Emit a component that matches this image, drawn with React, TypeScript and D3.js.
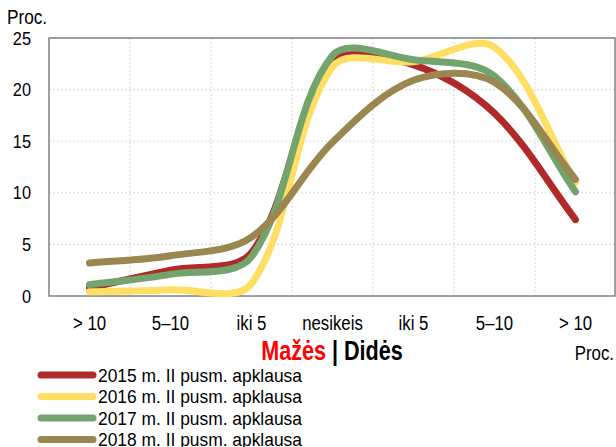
import * as d3 from 'd3';
import { useEffect, useRef } from 'react';

const categories = ['> 10', '5–10', 'iki 5', 'nesikeis', 'iki 5', '5–10', '> 10'];
const seriesNames = [
    '2015 m. II pusm. apklausa',
    '2016 m. II pusm. apklausa',
    '2017 m. II pusm. apklausa',
    '2018 m. II pusm. apklausa',
];
const values2015 = [0.8, 2.5, 4.2, 22.7, 22.4, 17.7, 7.4];
const values2016 = [0.4, 0.6, 1.2, 22.2, 22.7, 24.1, 11.0];
const values2017 = [1.1, 2.1, 3.8, 23.3, 22.9, 21.3, 10.1];
const values2018 = [3.2, 3.9, 5.7, 14.9, 20.9, 20.7, 11.3];
const yTicks = [0, 5, 10, 15, 20, 25];
const colors = ['#B02A29', '#FFDE64', '#73A46E', '#9A8651'];

const FONT = '"Liberation Sans", Arial, sans-serif';

type G = d3.Selection<SVGGElement, unknown, null, undefined>;
type Pt = [number, number];

// narrow-looking text: regular Liberation Sans squeezed horizontally
function label(g: G, x: number, y: number, str: string, size: number, sx: number, anchor = 'start') {
    return g.append('text')
        .attr('transform', `translate(${x},${y}) scale(${sx},1)`)
        .attr('text-anchor', anchor)
        .attr('font-size', size)
        .text(str);
}

// spreadsheet-style smoothed line: bezier segments, tangents weighted by neighbour segment lengths
function smoothPath(pts: Pt[]) {
    const p = d3.path();
    const dist = (a: Pt, b: Pt) => Math.hypot(b[0] - a[0], b[1] - a[1]);
    p.moveTo(pts[0][0], pts[0][1]);
    for (let i = 0; i < pts.length - 1; i++) {
        const p0 = pts[Math.max(0, i - 1)], p1 = pts[i], p2 = pts[i + 1], p3 = pts[Math.min(pts.length - 1, i + 2)];
        const d01 = dist(p0, p1), d12 = dist(p1, p2), d23 = dist(p2, p3);
        const f1 = d12 / (d01 + d12) / 3;
        const f2 = d12 / (d12 + d23) / 3;
        const c1: Pt = [p1[0] + (p2[0] - p0[0]) * f1, p1[1] + (p2[1] - p0[1]) * f1];
        const c2: Pt = [p2[0] - (p3[0] - p1[0]) * f2, p2[1] - (p3[1] - p1[1]) * f2];
        p.bezierCurveTo(c1[0], c1[1], c2[0], c2[1], p2[0], p2[1]);
    }
    return p.toString();
}

export default function App() {
    const svgRef = useRef<SVGSVGElement>(null);
    useEffect(() => {
        if (!svgRef.current) return;
        const svg = d3.select(svgRef.current);
        svg.selectAll('*').remove();

        const left = 49, right = 616, top = 38, bottom = 296;
        const x = d3.scaleBand<number>().domain(d3.range(categories.length)).range([left, right]);
        const y = d3.scaleLinear().domain([0, 25]).range([bottom, top]);
        const cx = (i: number) => (x(i) as number) + x.bandwidth() / 2;

        const grid = svg.append('g').attr('stroke', '#d9d9d9').attr('stroke-width', 1).attr('stroke-dasharray', '2,2');
        yTicks.filter((t) => t > 0 && t < 25).forEach((t) => {
            grid.append('line').attr('x1', left).attr('x2', right).attr('y1', y(t)).attr('y2', y(t));
        });
        d3.range(1, categories.length).forEach((i) => {
            const gx = x(i) as number;
            grid.append('line').attr('x1', gx).attr('x2', gx).attr('y1', top).attr('y2', bottom);
        });

        svg.append('rect')
            .attr('x', left).attr('y', top)
            .attr('width', right - left - 1).attr('height', bottom - top)
            .attr('fill', 'none').attr('stroke', '#808080').attr('stroke-width', 1.5);

        const all = [values2015, values2016, values2017, values2018];
        all.forEach((vals, k) => {
            const pts: Pt[] = vals.map((v, i) => [cx(i), y(v)]);
            svg.append('path')
                .attr('d', smoothPath(pts))
                .attr('fill', 'none')
                .attr('stroke', colors[k])
                .attr('stroke-width', 7)
                .attr('stroke-linecap', 'round')
                .attr('stroke-linejoin', 'round');
        });

        const text = svg.append('g').attr('font-family', FONT).attr('fill', '#000') as unknown as G;
        yTicks.forEach((t) => {
            label(text, 31, y(t) + 6.5, String(t), 19, 0.86, 'end');
        });
        label(text, 7, 24, 'Proc.', 20, 0.86);
        categories.forEach((c, i) => {
            label(text, cx(i), 330, c, 21, 0.8, 'middle');
        });
        const title = text.append('text')
            .attr('transform', 'translate(332,360) scale(0.8,1)')
            .attr('text-anchor', 'middle').attr('font-size', 27).attr('font-weight', 'bold');
        title.append('tspan').attr('fill', '#FF0000').text('Mažės');
        title.append('tspan').attr('fill', '#000').text(' | Didės');
        label(text, 614, 360, 'Proc.', 21, 0.8, 'end');

        seriesNames.forEach((name, k) => {
            const ly = 375 + k * 21.5;
            svg.append('line').attr('x1', 41).attr('x2', 93).attr('y1', ly).attr('y2', ly)
                .attr('stroke', colors[k]).attr('stroke-width', 7).attr('stroke-linecap', 'round');
            label(text, 98, ly + 6.8, name, 18.6, 0.935);
        });
    });
    return (
        <div style={{ position: 'absolute', left: 0, top: 0 }}>
            <svg ref={svgRef} width={616} height={447} style={{ display: 'block' }} />
        </div>
    );
}
